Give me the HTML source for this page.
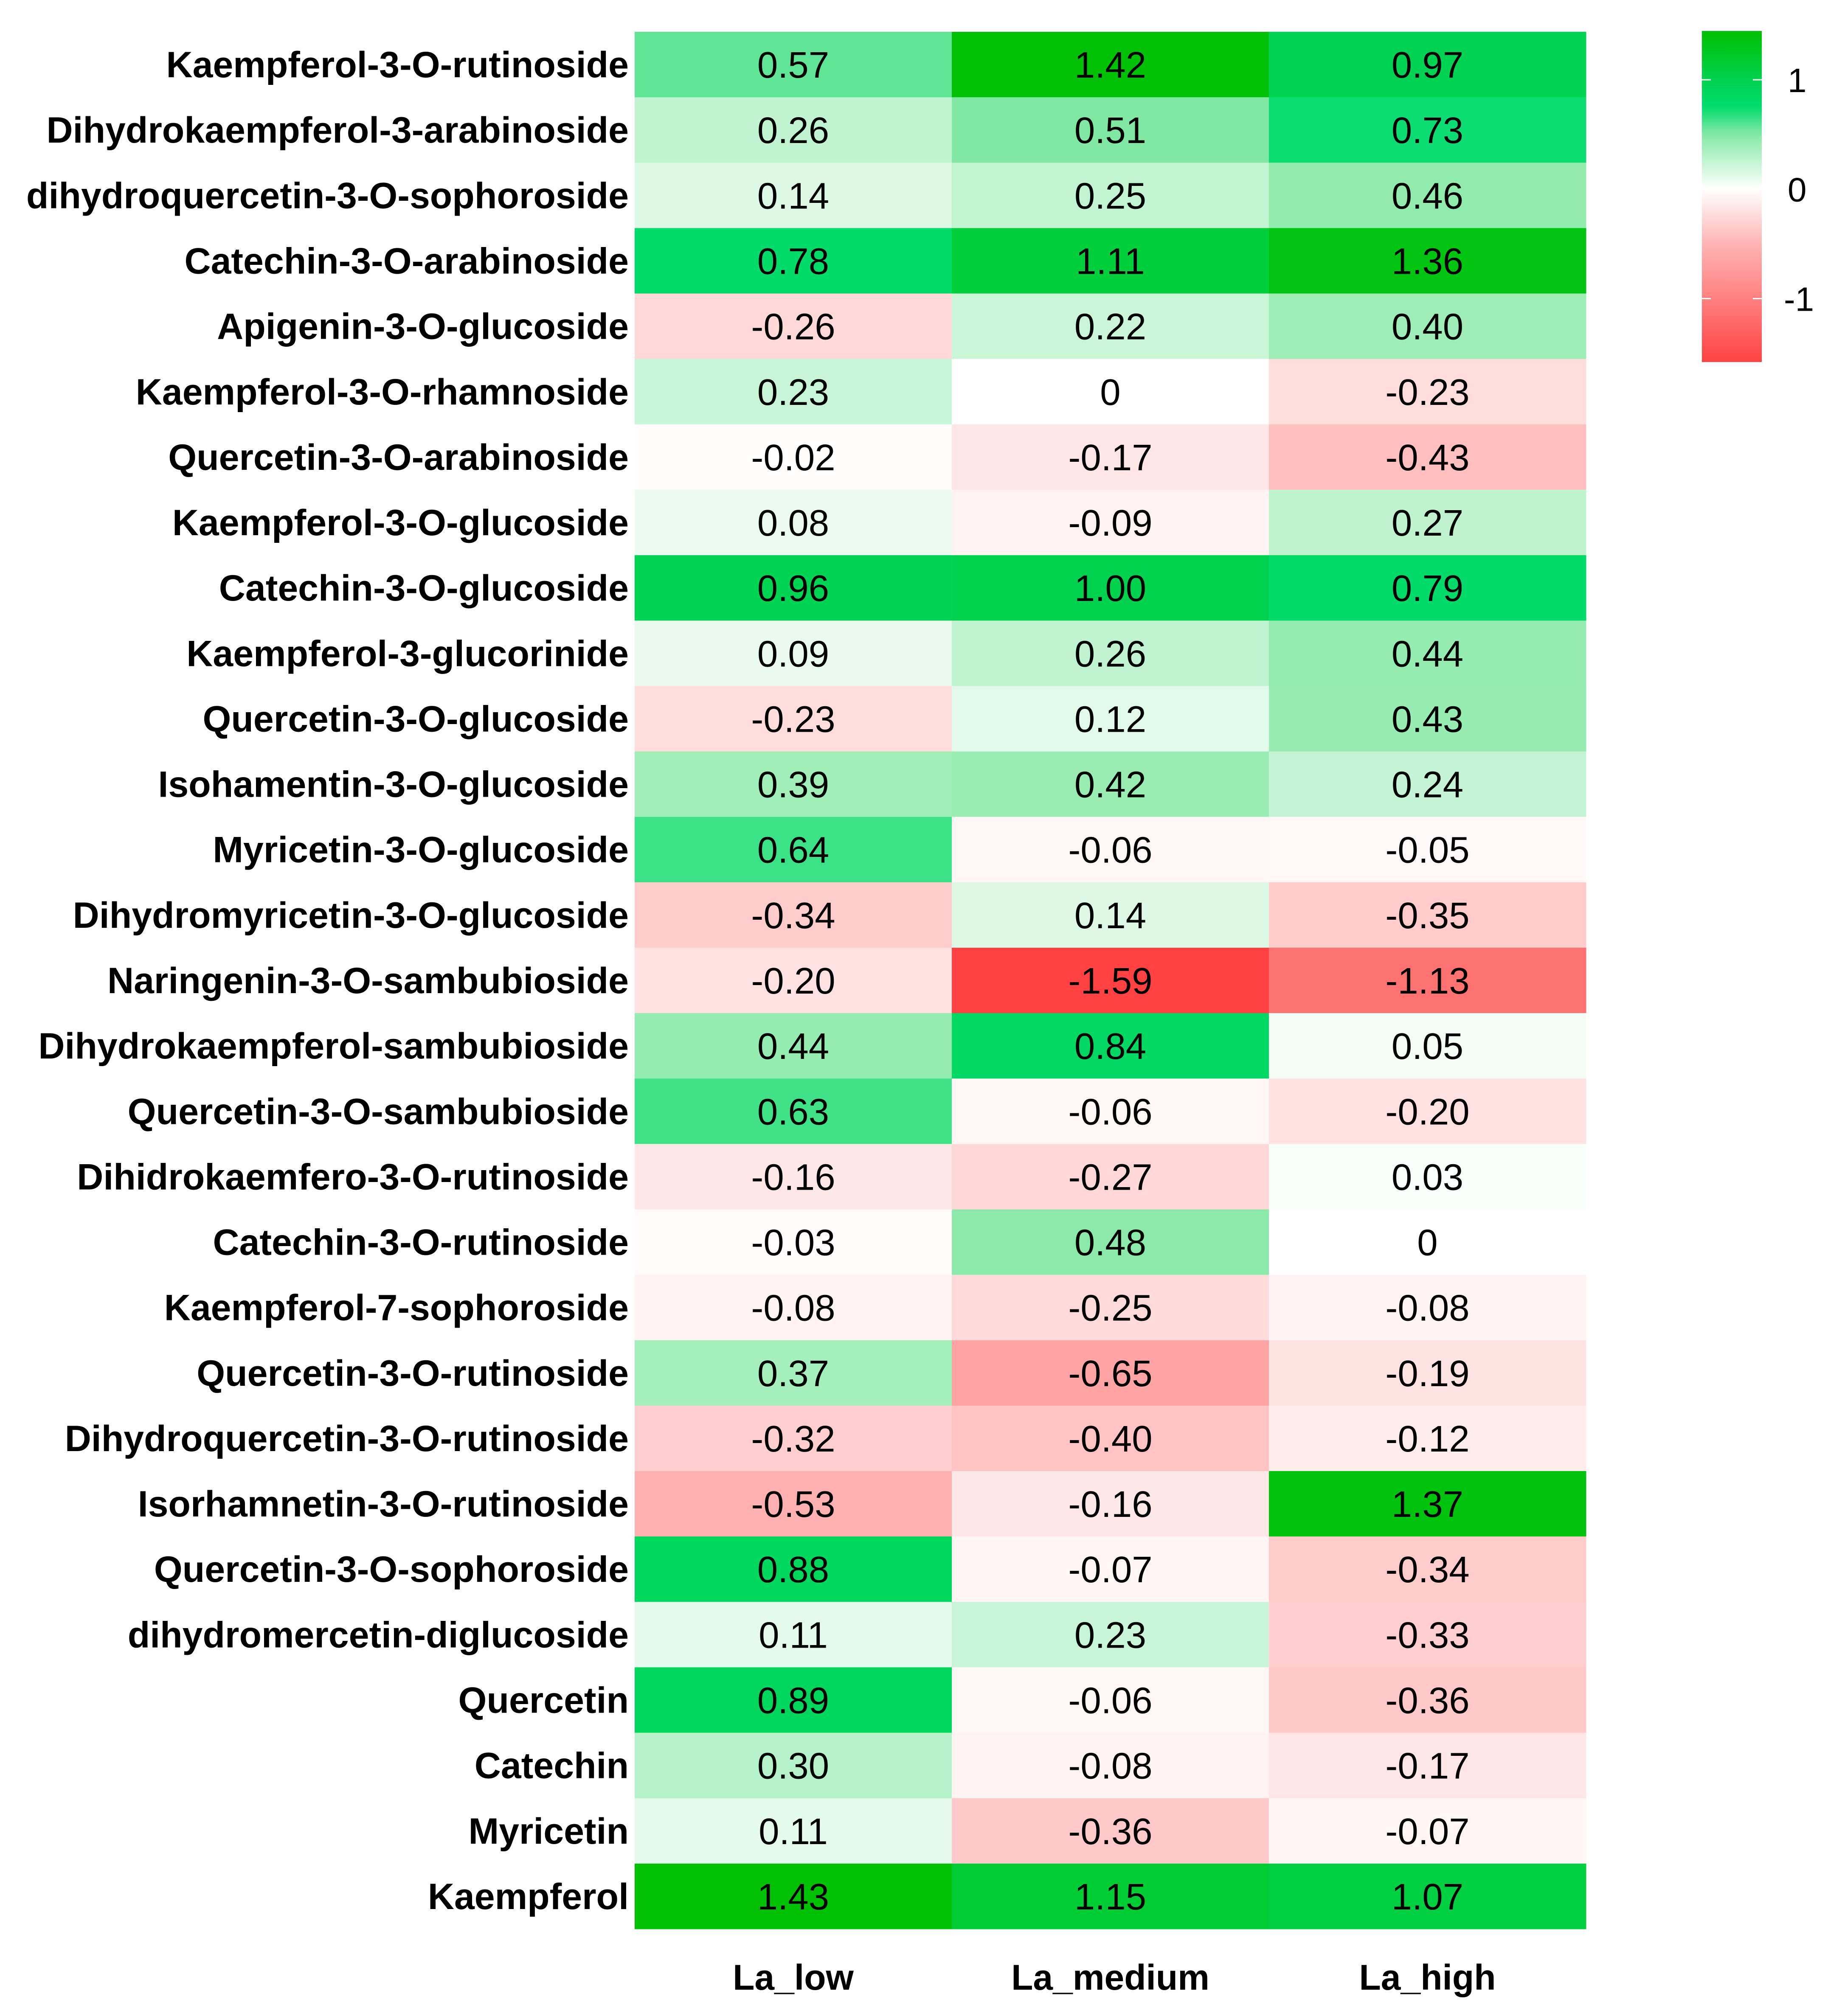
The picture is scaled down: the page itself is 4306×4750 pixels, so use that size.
<!DOCTYPE html>
<html><head><meta charset="utf-8">
<style>
html,body{margin:0;padding:0;background:#fff;}
svg{display:block;font-family:"Liberation Sans",Arial,sans-serif;}
</style></head>
<body>
<svg id="chart" width="4306" height="4750" viewBox="0 0 4306 4750" xmlns="http://www.w3.org/2000/svg">
<defs>
<linearGradient id="lg" x1="0" y1="0" x2="0" y2="1"></linearGradient>
</defs>
<rect width="4306" height="4750" fill="#fff"/>
<g id="cells"></g>
<g id="rowlabels"></g>
<g id="collabels"></g>
<g id="legend"></g>
</svg>
<script>
const rowNames = ["Kaempferol-3-O-rutinoside","Dihydrokaempferol-3-arabinoside","dihydroquercetin-3-O-sophoroside","Catechin-3-O-arabinoside","Apigenin-3-O-glucoside","Kaempferol-3-O-rhamnoside","Quercetin-3-O-arabinoside","Kaempferol-3-O-glucoside","Catechin-3-O-glucoside","Kaempferol-3-glucorinide","Quercetin-3-O-glucoside","Isohamentin-3-O-glucoside","Myricetin-3-O-glucoside","Dihydromyricetin-3-O-glucoside","Naringenin-3-O-sambubioside","Dihydrokaempferol-sambubioside","Quercetin-3-O-sambubioside","Dihidrokaemfero-3-O-rutinoside","Catechin-3-O-rutinoside","Kaempferol-7-sophoroside","Quercetin-3-O-rutinoside","Dihydroquercetin-3-O-rutinoside","Isorhamnetin-3-O-rutinoside","Quercetin-3-O-sophoroside","dihydromercetin-diglucoside","Quercetin","Catechin","Myricetin","Kaempferol"];
const colNames = ["La_low","La_medium","La_high"];
const laLow = [0.57,0.26,0.14,0.78,-0.26,0.23,-0.02,0.08,0.96,0.09,-0.23,0.39,0.64,-0.34,-0.20,0.44,0.63,-0.16,-0.03,-0.08,0.37,-0.32,-0.53,0.88,0.11,0.89,0.30,0.11,1.43];
const laMedium = [1.42,0.51,0.25,1.11,0.22,0,-0.17,-0.09,1.00,0.26,0.12,0.42,-0.06,0.14,-1.59,0.84,-0.06,-0.27,0.48,-0.25,-0.65,-0.40,-0.16,-0.07,0.23,-0.06,-0.08,-0.36,1.15];
const laHigh = [0.97,0.73,0.46,1.36,0.40,-0.23,-0.43,0.27,0.79,0.44,0.43,0.24,-0.05,-0.35,-1.13,0.05,-0.20,0.03,0,-0.08,-0.19,-0.12,1.37,-0.34,-0.33,-0.36,-0.17,-0.07,1.07];
const legendTicks = [1,0,-1];
const legendMax = 1.446, legendMin = -1.58;

const NS="http://www.w3.org/2000/svg";
const leftX=1495, topY=75, colW=747, rowH=(4545-75)/29;
const lgX=4009, lgW=141, lgTop=73, lgBot=853;
const stops=[[-1.6,[255,64,64]],[-1,[255,128,128]],[-0.5,[255,180,180]],[0,[255,255,255]],[0.5,[134,233,165]],[0.75,[0,220,110]],[1.0,[0,210,78]],[1.45,[0,192,0]]];
function color(v){
  if(v<=stops[0][0]) v=stops[0][0];
  if(v>=stops[stops.length-1][0]) v=stops[stops.length-1][0];
  for(let i=0;i<stops.length-1;i++){
    const a=stops[i],b=stops[i+1];
    if(v>=a[0]&&v<=b[0]){
      const t=(v-a[0])/(b[0]-a[0]);
      const c=a[1].map((x,k)=>Math.round(x+(b[1][k]-x)*t));
      return `rgb(${c[0]},${c[1]},${c[2]})`;
    }
  }
  return "#fff";
}
function fmt(v){return v===0?"0":v.toFixed(2);}
function xCol(j){return leftX+j*colW;}
function yRow(i){return topY+i*rowH;}
function mk(tag,attrs,parent){const e=document.createElementNS(NS,tag);for(const k in attrs)e.setAttribute(k,attrs[k]);parent.appendChild(e);return e;}

const series=[laLow,laMedium,laHigh];
const cells=document.getElementById('cells');
series.forEach((arr,j)=>{
  arr.forEach((v,i)=>{
    const r=mk('rect',{x:xCol(j),y:yRow(i),width:colW+0.5,height:rowH+0.5,fill:color(v)},cells);
    
    
    const t=mk('text',{x:xCol(j)+colW/2,y:yRow(i)+rowH/2+31,'text-anchor':'middle','font-size':87,fill:'#000'},cells);
    t.textContent=fmt(v);
    
    
  });
});
const rl=document.getElementById('rowlabels');
rowNames.forEach((n,i)=>{
  const t=mk('text',{x:leftX-14,y:yRow(i)+rowH/2+30,'text-anchor':'end','font-size':86,'font-weight':'bold',fill:'#000'},rl);
  t.textContent=n;
  
  
});
const cl=document.getElementById('collabels');
colNames.forEach((n,j)=>{
  const t=mk('text',{x:xCol(j)+colW/2,y:4688,'text-anchor':'middle','font-size':84,'font-weight':'bold',fill:'#000'},cl);
  t.textContent=n;
  
  
});
const lg=document.getElementById('lg');
for(let k=0;k<=40;k++){
  const v=legendMax-(legendMax-legendMin)*k/40;
  mk('stop',{offset:(k/40),'stop-color':color(v)},lg);
}
const leg=document.getElementById('legend');
const bar=mk('rect',{x:lgX,y:lgTop,width:lgW,height:lgBot-lgTop,fill:'url(#lg)'},leg);


function yLeg(v){return lgTop+(legendMax-v)/(legendMax-legendMin)*(lgBot-lgTop);}
legendTicks.forEach(v=>{
  const y=yLeg(v);
  mk('line',{x1:lgX,x2:lgX+21,y1:y,y2:y,stroke:'#fff','stroke-width':3},leg);
  mk('line',{x1:lgX+lgW-21,x2:lgX+lgW,y1:y,y2:y,stroke:'#fff','stroke-width':3},leg);
  const t=mk('text',{x:v<0?4202:4211,y:y+29,'font-size':80,fill:'#000'},leg);
  t.textContent=v<0?"-"+Math.abs(v):String(v);
  
  
});
</script>
</body></html>
